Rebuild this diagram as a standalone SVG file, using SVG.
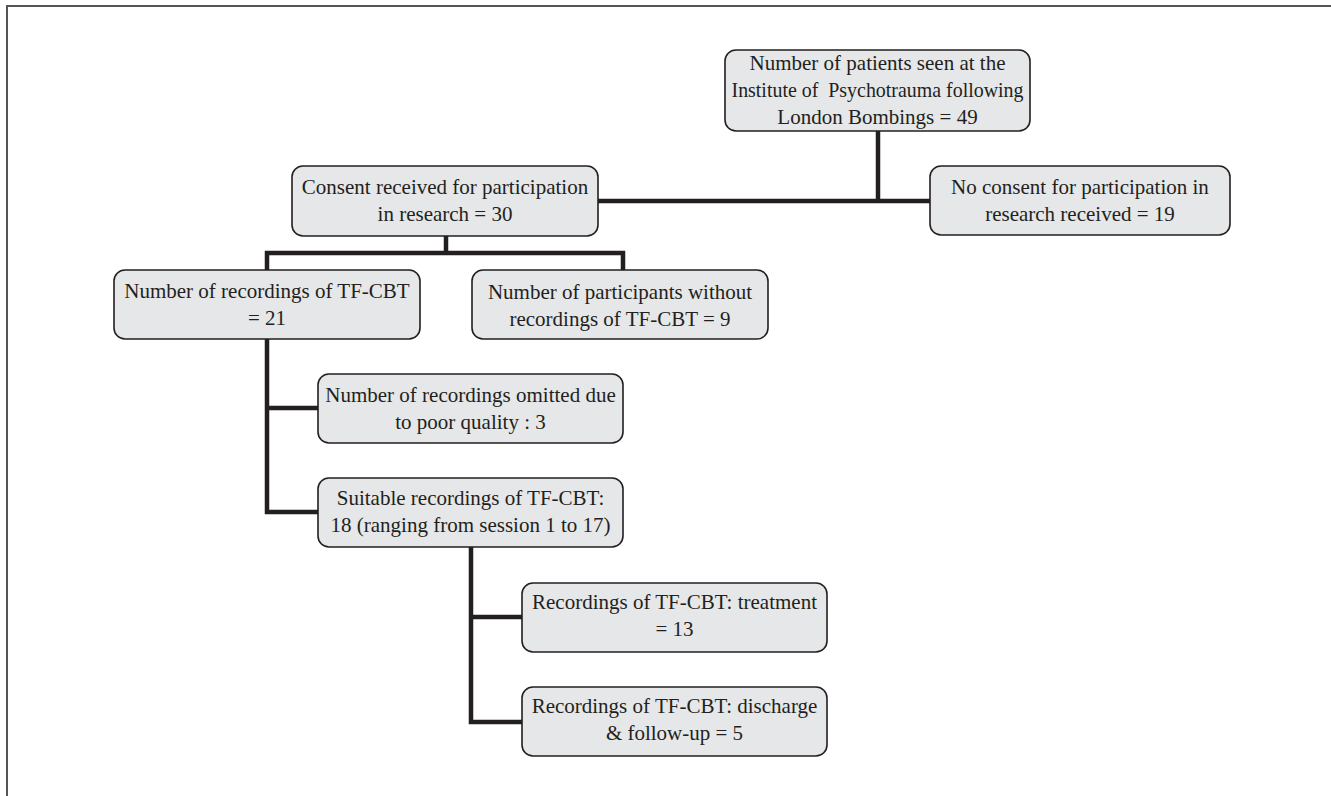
<svg xmlns="http://www.w3.org/2000/svg" width="1331" height="796" viewBox="0 0 1331 796">
<style>
.box{fill:#e6e7e8;stroke:#231f20;stroke-width:1.6}
text{font-family:'Liberation Serif','Times New Roman',Times,serif;font-size:21px;fill:#231f20;text-anchor:middle}
.c{fill:none;stroke:#231f20;stroke-width:4.5;stroke-linejoin:miter;stroke-linecap:butt}
.frame{fill:none;stroke:#555;stroke-width:2}
</style>
<rect width="1331" height="796" fill="#fff"/>
<path class="frame" d="M7 796 V6 H1331"/>
<g id="connectors">
<path class="c" d="M878 131 V201"/>
<path class="c" d="M598 201 H930"/>
<path class="c" d="M446 236 V253"/>
<path class="c" d="M267 270 V253 H623 V270"/>
<path class="c" d="M267 339 V512 H318 M267 408 H318"/>
<path class="c" d="M471 547 V722 H522 M471 617 H522"/>
</g>
<g id="n_patients">
<rect class="box" x="725" y="50" width="305" height="81" rx="11"/>
<text x="877.5" y="70">Number of patients seen at the</text>
<text x="877.5" y="97" xml:space="preserve" textLength="292" lengthAdjust="spacingAndGlyphs">Institute of  Psychotrauma following</text>
<text x="877.5" y="124">London Bombings = 49</text>
</g>
<g id="n_consent">
<rect class="box" x="292" y="166" width="306" height="70" rx="11"/>
<text x="445" y="194">Consent received for participation</text>
<text x="445" y="221">in research = 30</text>
</g>
<g id="n_noconsent">
<rect class="box" x="930" y="166" width="300" height="69" rx="11"/>
<text x="1080" y="194">No consent for participation in</text>
<text x="1080" y="221">research received = 19</text>
</g>
<g id="n_recordings">
<rect class="box" x="114" y="270" width="306" height="69" rx="11"/>
<text x="267" y="298">Number of recordings of TF-CBT</text>
<text x="267" y="325">= 21</text>
</g>
<g id="n_without">
<rect class="box" x="472" y="270" width="296" height="69" rx="11"/>
<text x="620" y="299">Number of participants without</text>
<text x="620" y="326">recordings of TF-CBT = 9</text>
</g>
<g id="n_omitted">
<rect class="box" x="318" y="374" width="305" height="69" rx="11"/>
<text x="470.5" y="402">Number of recordings omitted due</text>
<text x="470.5" y="429">to poor quality : 3</text>
</g>
<g id="n_suitable">
<rect class="box" x="318" y="478" width="305" height="69" rx="11"/>
<text x="470.5" y="505">Suitable recordings of TF-CBT:</text>
<text x="470.5" y="532">18 (ranging from session 1 to 17)</text>
</g>
<g id="n_treatment">
<rect class="box" x="522" y="583" width="305" height="69" rx="11"/>
<text x="674.5" y="609">Recordings of TF-CBT: treatment</text>
<text x="674.5" y="636">= 13</text>
</g>
<g id="n_discharge">
<rect class="box" x="522" y="687" width="305" height="69" rx="11"/>
<text x="674.5" y="713">Recordings of TF-CBT: discharge</text>
<text x="674.5" y="740">&amp; follow-up = 5</text>
</g>
</svg>
